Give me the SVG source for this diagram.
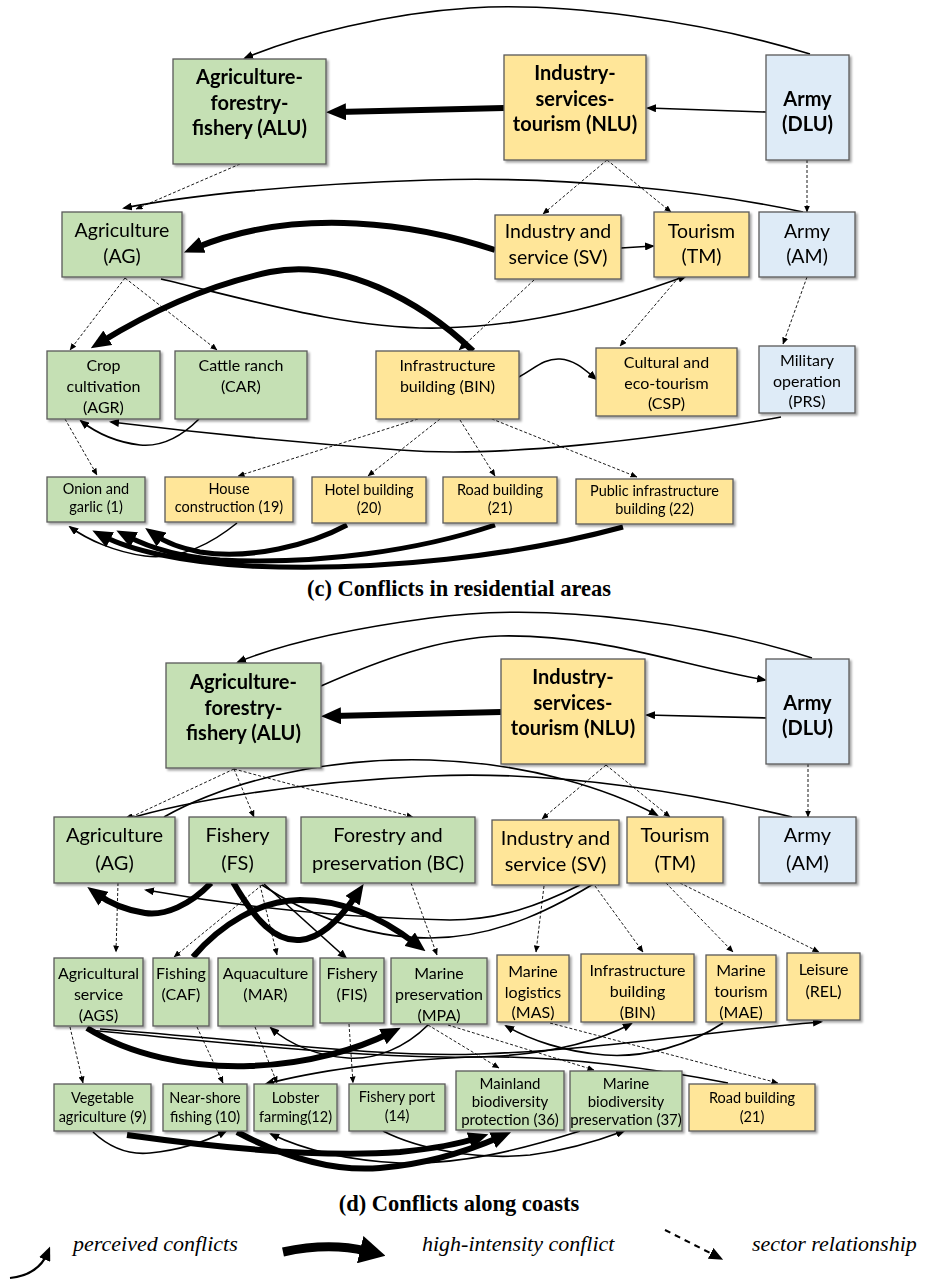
<svg xmlns="http://www.w3.org/2000/svg" width="925" height="1280" viewBox="0 0 925 1280">
<style>
.g{fill:#C5E0B4;stroke:#5a5a5a;stroke-width:1.3}
.y{fill:#FFE699;stroke:#5a5a5a;stroke-width:1.3}
.bl{fill:#DEEBF7;stroke:#5a5a5a;stroke-width:1.3}
text{font-family:Lato,"Liberation Sans",sans-serif;fill:#000;text-anchor:middle}
.hb{font-size:20px;font-weight:bold}
.m{font-size:19.5px}
.s{font-size:16px}
.xs{font-size:14.5px}
.x15{font-size:15px}
.cap{font-family:"Liberation Serif",serif;font-weight:bold;font-size:22.5px}
.leg{font-family:"Liberation Serif",serif;font-style:italic;font-size:22px;text-anchor:start}
.t{fill:none;stroke:#000;stroke-width:1.6;marker-end:url(#mt)}
.T{fill:none;stroke:#000;stroke-width:6;marker-end:url(#mT)}
.d{fill:none;stroke:#000;stroke-width:0.9;stroke-dasharray:3,2;marker-end:url(#md)}
</style>
<defs>
<filter id="sh" x="-10%" y="-10%" width="130%" height="130%"><feDropShadow dx="2" dy="2" stdDeviation="1.2" flood-color="#000" flood-opacity="0.35"/></filter>
<marker id="mt" markerUnits="userSpaceOnUse" viewBox="0 0 10 8" markerWidth="10" markerHeight="8" refX="8" refY="4" orient="auto"><path d="M0,0 L10,4 L0,8 z" fill="#000"/></marker>
<marker id="mT" markerUnits="userSpaceOnUse" viewBox="0 0 20 17" markerWidth="20" markerHeight="17" refX="8" refY="8.5" orient="auto"><path d="M0,0 L20,8.5 L0,17 z" fill="#000"/></marker>
<marker id="md" markerUnits="userSpaceOnUse" viewBox="0 0 7 6" markerWidth="7" markerHeight="6" refX="6.5" refY="3" orient="auto"><path d="M0,0 L7,3 L0,6 z" fill="#000"/></marker>
<marker id="mL" markerUnits="userSpaceOnUse" viewBox="0 0 14 12" markerWidth="14" markerHeight="12" refX="6" refY="6" orient="auto"><path d="M0,0 L14,6 L0,12 z" fill="#000"/></marker>
<marker id="mLT" markerUnits="userSpaceOnUse" viewBox="0 0 26 28" markerWidth="26" markerHeight="28" refX="6" refY="14" orient="auto"><path d="M0,0 L26,14 L0,28 z" fill="#000"/></marker>
</defs>

<g id="connectors">
<!-- (c) -->
<path class="t" d="M810,54 C700,20 560,2 470,8 C390,13 300,35 245,58"/>
<path class="T" d="M504,108 L338,112"/>
<path class="t" d="M766,112 L648,108"/>
<path class="d" d="M240,164 L136,209"/>
<path class="t" d="M803,212 C700,190 560,176 430,180 C300,184 190,195 124,208"/>
<path class="d" d="M607,160 L543,214"/>
<path class="d" d="M607,160 L671,212"/>
<path class="d" d="M807,160 L807,212"/>
<path class="t" d="M621,248 L653,246"/>
<path class="T" d="M495,250 C420,225 300,205 195,248"/>
<path class="T" d="M473,351 C420,300 340,258 270,272 C200,287 140,318 101,342"/>
<path class="t" d="M161,279 C250,300 350,330 440,328 C540,326 620,300 686,276"/>
<path class="d" d="M125,278 L70,350"/>
<path class="d" d="M125,278 L217,350"/>
<path class="d" d="M534,280 L459,350"/>
<path class="d" d="M679,277 L620,346"/>
<path class="d" d="M807,277 L783,344"/>
<path class="t" d="M519,377 C535,368 545,358 560,359 C575,360 585,370 596,379"/>
<path class="t" d="M781,417 C650,440 500,458 400,450 C260,440 160,428 111,422"/>
<path class="t" d="M199,419 C180,438 160,447 140,445 C115,442 95,432 81,421"/>
<path class="d" d="M65,419 L97,475"/>
<path class="d" d="M418,419 L238,476"/>
<path class="d" d="M440,419 L368,476"/>
<path class="d" d="M460,420 L495,476"/>
<path class="d" d="M487,417 L637,477"/>
<path class="t" d="M237,523 C210,545 180,560 145,556 C115,552 88,540 70,527"/>
<path class="T" style="stroke-width:5" d="M347,525 C310,545 250,560 200,552 C180,548 165,542 155,535"/>
<path class="T" style="stroke-width:5" d="M495,525 C420,550 320,565 220,560 C180,557 150,548 127,536"/>
<path class="T" style="stroke-width:5" d="M623,527 C520,555 380,572 250,566 C180,562 130,550 103,536"/>
<!-- (d) -->
<path class="t" d="M812,658 C720,628 560,600 430,618 C340,630 280,645 238,662"/>
<path class="t" d="M321,686 C380,660 440,638 500,636 C600,634 680,665 765,680"/>
<path class="T" d="M501,712 L333,716"/>
<path class="t" d="M768,718 L647,715"/>
<path class="d" d="M234,769 L127,819"/>
<path class="d" d="M234,769 L254,817"/>
<path class="d" d="M234,769 L413,817"/>
<path class="d" d="M606,765 L542,819"/>
<path class="d" d="M606,765 L670,817"/>
<path class="d" d="M808,764 L808,817"/>
<path class="t" d="M792,817 C700,795 560,770 430,776 C300,782 190,800 124,820"/>
<path class="t" d="M164,817 C230,780 330,757 430,760 C530,763 610,790 657,815"/>
<path class="t" d="M580,885 C540,905 500,920 450,920 C340,918 230,905 146,890"/>
<path class="t" d="M262,885 C300,910 360,938 430,938 C500,938 560,905 603,878"/>
<path class="t" d="M264,884 L346,958"/>
<path class="T" d="M211,883 C190,905 165,916 145,913 C125,910 108,902 97,894"/>
<path class="T" d="M233,882 C255,920 275,942 300,940 C325,938 345,912 357,894"/>
<path class="T" d="M193,957 C220,925 260,900 300,900 C345,900 385,920 416,944"/>
<path class="d" d="M118,883 L116,952"/>
<path class="d" d="M262,885 L174,957"/>
<path class="d" d="M260,885 L277,955"/>
<path class="d" d="M411,883 L437,955"/>
<path class="d" d="M544,886 L536,952"/>
<path class="d" d="M595,886 L643,952"/>
<path class="d" d="M666,883 L733,952"/>
<path class="d" d="M680,883 L819,952"/>
<path class="d" d="M70,1027 L83,1083"/>
<path class="d" d="M197,1027 L223,1083"/>
<path class="d" d="M255,1027 L277,1083"/>
<path class="d" d="M349,1024 L353,1083"/>
<path class="d" d="M428,1025 L499,1068"/>
<path class="d" d="M448,1025 L594,1070"/>
<path class="d" d="M550,1023 L778,1083"/>
<path class="T" d="M87,1028 C130,1055 190,1068 250,1066 C310,1064 360,1048 390,1033"/>
<path class="t" d="M100,1029 C250,1040 380,1058 480,1054 C600,1050 720,1030 821,1022"/>
<path class="t" d="M88,1030 C250,1045 400,1062 500,1056 C560,1052 600,1040 631,1024"/>
<path class="t" d="M428,1025 C405,1048 375,1060 348,1058 C318,1056 290,1045 271,1028"/>
<path class="t" d="M728,1083 C650,1068 560,1055 470,1057 C390,1060 310,1072 266,1084"/>
<path class="t" d="M723,1023 C690,1045 645,1058 605,1055 C565,1052 530,1040 506,1026"/>
<path class="t" d="M93,1132 C110,1148 130,1155 150,1153 C180,1150 205,1142 226,1131"/>
<path class="T" d="M127,1135 C220,1148 320,1158 400,1152 C440,1148 465,1142 477,1138"/>
<path class="T" d="M237,1132 C280,1155 330,1172 380,1168 C430,1164 470,1150 500,1137"/>
<path class="t" d="M580,1131 C520,1150 460,1165 400,1163 C340,1160 300,1148 271,1134"/>
<path class="t" d="M383,1131 C420,1150 480,1160 530,1155 C570,1150 600,1140 624,1131"/>
</g>

<g id="c-ALU" filter="url(#sh)"><rect class="g" x="173" y="59" width="153" height="105"/><text class="hb" x="249.5" y="84">Agriculture-</text><text class="hb" x="249.5" y="110">forestry-</text><text class="hb" x="249.5" y="135">fishery (ALU)</text></g>
<g id="c-NLU" filter="url(#sh)"><rect class="y" x="504" y="55" width="142" height="105"/><text class="hb" x="575" y="80">Industry-</text><text class="hb" x="575" y="106">services-</text><text class="hb" x="575" y="131">tourism (NLU)</text></g>
<g id="c-DLU" filter="url(#sh)"><rect class="bl" x="766" y="55" width="83" height="105"/><text class="hb" x="807.5" y="106">Army</text><text class="hb" x="807.5" y="131">(DLU)</text></g>
<g id="c-AG" filter="url(#sh)"><rect class="g" x="62" y="212" width="120" height="65"/><text class="m" x="122" y="237">Agriculture</text><text class="m" x="122" y="263">(AG)</text></g>
<g id="c-SV" filter="url(#sh)"><rect class="y" x="495" y="215" width="126" height="64"/><text class="m" x="558" y="238">Industry and</text><text class="m" x="558" y="264">service (SV)</text></g>
<g id="c-TM" filter="url(#sh)"><rect class="y" x="654" y="212" width="95" height="65"/><text class="m" x="701.5" y="238">Tourism</text><text class="m" x="701.5" y="263">(TM)</text></g>
<g id="c-AM" filter="url(#sh)"><rect class="bl" x="759" y="212" width="96" height="65"/><text class="m" x="807" y="238">Army</text><text class="m" x="807" y="263">(AM)</text></g>
<g id="c-AGR" filter="url(#sh)"><rect class="g" x="47" y="351" width="113" height="68"/><text class="s" x="103.5" y="371">Crop</text><text class="s" x="103.5" y="392">cultivation</text><text class="s" x="103.5" y="413">(AGR)</text></g>
<g id="c-CAR" filter="url(#sh)"><rect class="g" x="175" y="351" width="132" height="68"/><text class="s" x="241" y="371">Cattle ranch</text><text class="s" x="241" y="392">(CAR)</text></g>
<g id="c-BIN" filter="url(#sh)"><rect class="y" x="376" y="351" width="143" height="68"/><text class="s" x="447.5" y="371">Infrastructure</text><text class="s" x="447.5" y="392">building (BIN)</text></g>
<g id="c-CSP" filter="url(#sh)"><rect class="y" x="596" y="348" width="141" height="68"/><text class="s" x="666.5" y="368">Cultural and</text><text class="s" x="666.5" y="389">eco-tourism</text><text class="s" x="666.5" y="409">(CSP)</text></g>
<g id="c-PRS" filter="url(#sh)"><rect class="bl" x="759" y="346" width="96" height="67"/><text class="s" x="807" y="366">Military</text><text class="s" x="807" y="387">operation</text><text class="s" x="807" y="407">(PRS)</text></g>
<g id="c-1" filter="url(#sh)"><rect class="g" x="47" y="477" width="98" height="45"/><text class="xs" x="96" y="494">Onion and</text><text class="xs" x="96" y="512">garlic (1)</text></g>
<g id="c-19" filter="url(#sh)"><rect class="y" x="165" y="477" width="128" height="45"/><text class="xs" x="229" y="494">House</text><text class="xs" x="229" y="512">construction (19)</text></g>
<g id="c-20" filter="url(#sh)"><rect class="y" x="312" y="477" width="114" height="46"/><text class="xs" x="369" y="495">Hotel building</text><text class="xs" x="369" y="513">(20)</text></g>
<g id="c-21" filter="url(#sh)"><rect class="y" x="443" y="477" width="114" height="46"/><text class="xs" x="500" y="495">Road building</text><text class="xs" x="500" y="513">(21)</text></g>
<g id="c-22" filter="url(#sh)"><rect class="y" x="576" y="479" width="157" height="45"/><text class="xs" x="654.5" y="496">Public infrastructure</text><text class="xs" x="654.5" y="514">building (22)</text></g>
<text class="cap" x="459" y="596">(c) Conflicts in residential areas</text>

<g id="d-ALU" filter="url(#sh)"><rect class="g" x="166" y="663" width="155" height="105"/><text class="hb" x="243.5" y="689">Agriculture-</text><text class="hb" x="243.5" y="715">forestry-</text><text class="hb" x="243.5" y="740">fishery (ALU)</text></g>
<g id="d-NLU" filter="url(#sh)"><rect class="y" x="501" y="659" width="144" height="105"/><text class="hb" x="573" y="684">Industry-</text><text class="hb" x="573" y="710">services-</text><text class="hb" x="573" y="735">tourism (NLU)</text></g>
<g id="d-DLU" filter="url(#sh)"><rect class="bl" x="766" y="659" width="83" height="105"/><text class="hb" x="807.5" y="710">Army</text><text class="hb" x="807.5" y="735">(DLU)</text></g>
<g id="d-AG" filter="url(#sh)"><rect class="g" x="54" y="817" width="121" height="66"/><text class="m" x="114.5" y="842" style="font-size:20px">Agriculture</text><text class="m" x="114.5" y="870" style="font-size:20px">(AG)</text></g>
<g id="d-FS" filter="url(#sh)"><rect class="g" x="189" y="817" width="97" height="66"/><text class="m" x="237.5" y="842" style="font-size:20px">Fishery</text><text class="m" x="237.5" y="870" style="font-size:20px">(FS)</text></g>
<g id="d-BC" filter="url(#sh)"><rect class="g" x="301" y="817" width="174" height="66"/><text class="m" x="388" y="842" style="font-size:20px">Forestry and</text><text class="m" x="388" y="870" style="font-size:20px">preservation (BC)</text></g>
<g id="d-SV" filter="url(#sh)"><rect class="y" x="492" y="820" width="127" height="65"/><text class="m" x="555.5" y="845" style="font-size:20px">Industry and</text><text class="m" x="555.5" y="871" style="font-size:20px">service (SV)</text></g>
<g id="d-TM" filter="url(#sh)"><rect class="y" x="627" y="817" width="96" height="66"/><text class="m" x="675" y="842" style="font-size:20px">Tourism</text><text class="m" x="675" y="870" style="font-size:20px">(TM)</text></g>
<g id="d-AM" filter="url(#sh)"><rect class="bl" x="759" y="817" width="97" height="66"/><text class="m" x="807.5" y="842" style="font-size:20px">Army</text><text class="m" x="807.5" y="870" style="font-size:20px">(AM)</text></g>
<g id="d-AGS" filter="url(#sh)"><rect class="g" x="54" y="958" width="89" height="68"/><text class="s" x="98.5" y="979">Agricultural</text><text class="s" x="98.5" y="1000">service</text><text class="s" x="98.5" y="1021">(AGS)</text></g>
<g id="d-CAF" filter="url(#sh)"><rect class="g" x="153" y="958" width="56" height="68"/><text class="s" x="181" y="979">Fishing</text><text class="s" x="181" y="1000">(CAF)</text></g>
<g id="d-MAR" filter="url(#sh)"><rect class="g" x="218" y="958" width="95" height="68"/><text class="s" x="265.5" y="979">Aquaculture</text><text class="s" x="265.5" y="1000">(MAR)</text></g>
<g id="d-FIS" filter="url(#sh)"><rect class="g" x="320" y="958" width="64" height="65"/><text class="s" x="352" y="979">Fishery</text><text class="s" x="352" y="1000">(FIS)</text></g>
<g id="d-MPA" filter="url(#sh)"><rect class="g" x="391" y="958" width="96" height="66"/><text class="s" x="439" y="979">Marine</text><text class="s" x="439" y="1000">preservation</text><text class="s" x="439" y="1021">(MPA)</text></g>
<g id="d-MAS" filter="url(#sh)"><rect class="y" x="497" y="955" width="72" height="67"/><text class="s" x="533" y="977">Marine</text><text class="s" x="533" y="998">logistics</text><text class="s" x="533" y="1018">(MAS)</text></g>
<g id="d-BIN" filter="url(#sh)"><rect class="y" x="581" y="954" width="113" height="68"/><text class="s" x="637.5" y="976">Infrastructure</text><text class="s" x="637.5" y="997">building</text><text class="s" x="637.5" y="1018">(BIN)</text></g>
<g id="d-MAE" filter="url(#sh)"><rect class="y" x="706" y="955" width="70" height="67"/><text class="s" x="741" y="976">Marine</text><text class="s" x="741" y="997">tourism</text><text class="s" x="741" y="1018">(MAE)</text></g>
<g id="d-REL" filter="url(#sh)"><rect class="y" x="787" y="953" width="73" height="67"/><text class="s" x="823.5" y="975">Leisure</text><text class="s" x="823.5" y="997">(REL)</text></g>
<g id="d-9" filter="url(#sh)"><rect class="g" x="54" y="1084" width="97" height="47"/><text class="xs" x="102.5" y="1103">Vegetable</text><text class="xs" x="102.5" y="1122">agriculture (9)</text></g>
<g id="d-10" filter="url(#sh)"><rect class="g" x="163" y="1084" width="84" height="47"/><text class="xs" x="205" y="1103">Near-shore</text><text class="xs" x="205" y="1122">fishing (10)</text></g>
<g id="d-12" filter="url(#sh)"><rect class="g" x="254" y="1084" width="83" height="47"/><text class="xs" x="295.5" y="1103">Lobster</text><text class="xs" x="295.5" y="1122">farming(12)</text></g>
<g id="d-14" filter="url(#sh)"><rect class="g" x="349" y="1084" width="96" height="47"/><text class="xs" x="397" y="1102">Fishery port</text><text class="xs" x="397" y="1121">(14)</text></g>
<g id="d-36" filter="url(#sh)"><rect class="g" x="456" y="1071" width="108" height="59"/><text class="x15" x="510" y="1089">Mainland</text><text class="x15" x="510" y="1107">biodiversity</text><text class="x15" x="510" y="1125">protection (36)</text></g>
<g id="d-37" filter="url(#sh)"><rect class="g" x="570" y="1071" width="112" height="60"/><text class="x15" x="626" y="1089">Marine</text><text class="x15" x="626" y="1107">biodiversity</text><text class="x15" x="626" y="1125">preservation (37)</text></g>
<g id="d-21" filter="url(#sh)"><rect class="y" x="689" y="1084" width="126" height="47"/><text class="xs" x="752" y="1103">Road building</text><text class="xs" x="752" y="1122">(21)</text></g>
<text class="cap" x="459" y="1211">(d) Conflicts along coasts</text>

<g id="legend">
<path d="M10,1278 C30,1276 42,1266 47,1254" fill="none" stroke="#000" stroke-width="2.2" marker-end="url(#mL)"/>
<text class="leg" x="73" y="1251">perceived conflicts</text>
<path d="M283,1252 C320,1244 345,1246 366,1251" fill="none" stroke="#000" stroke-width="9" marker-end="url(#mLT)"/>
<text class="leg" x="422" y="1251">high-intensity conflict</text>
<path d="M665,1230 L716,1256" fill="none" stroke="#000" stroke-width="2" stroke-dasharray="6,5" marker-end="url(#mL)"/>
<text class="leg" x="752" y="1251">sector relationship</text>
</g>
</svg>
